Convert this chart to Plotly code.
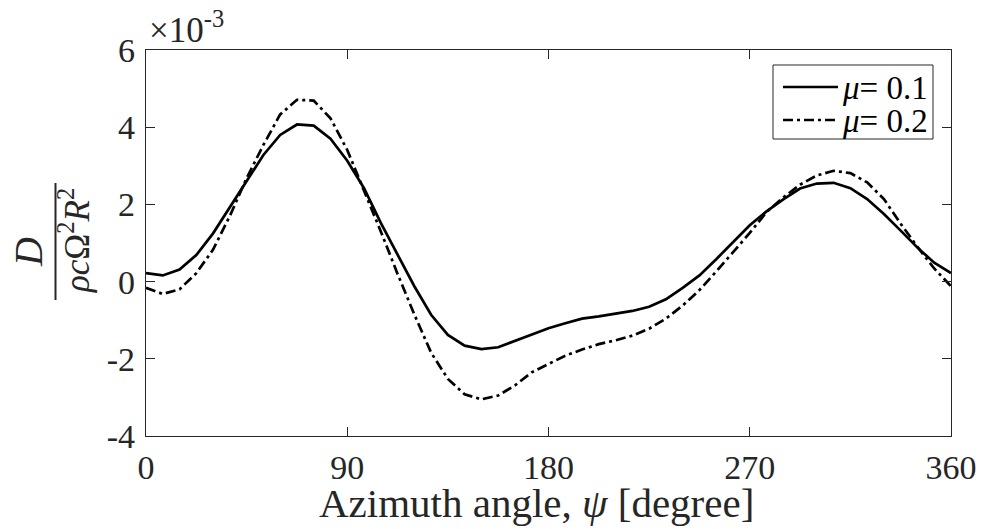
import plotly.graph_objects as go

# Azimuth angle (degrees)
psi = [i * 7.5 for i in range(49)]

# D / (rho c Omega^2 R^2), in units of 1e-3
mu_01 = [0.22, 0.16, 0.31, 0.69, 1.25, 1.93, 2.63, 3.28, 3.80, 4.07, 4.04, 3.70,
         3.13, 2.42, 1.52, 0.70, -0.12, -0.86, -1.38, -1.66, -1.75, -1.70, -1.54, -1.36,
         -1.21, -1.08, -0.96, -0.90, -0.83, -0.76, -0.65, -0.46, -0.16, 0.16, 0.58, 1.02,
         1.46, 1.82, 2.13, 2.41, 2.54, 2.56, 2.42, 2.14, 1.75, 1.32, 0.88, 0.49, 0.22]
mu_02 = [-0.16, -0.32, -0.20, 0.22, 0.83, 1.70, 2.68, 3.54, 4.33, 4.71, 4.69, 4.23,
         3.41, 2.37, 1.30, 0.20, -0.85, -1.84, -2.52, -2.92, -3.05, -2.95, -2.69, -2.35,
         -2.13, -1.92, -1.76, -1.62, -1.52, -1.40, -1.22, -0.96, -0.62, -0.22, 0.26, 0.76,
         1.26, 1.80, 2.18, 2.51, 2.75, 2.87, 2.81, 2.57, 2.14, 1.50, 0.90, 0.34, -0.12]

series_names = ["<i>μ</i>= 0.1", "<i>μ</i>= 0.2"]

x_ticks = [0, 90, 180, 270, 360]
x_tick_labels = ["0", "90", "180", "270", "360"]
y_ticks = [-4, -2, 0, 2, 4, 6]
y_tick_labels = ["-4", "-2", "0", "2", "4", "6"]

FONT = "Liberation Serif"
AX = "#262626"
DASHDOT = "10px,4px,3px,4px"

W, H = 982, 529
L, T = 146, 50
pw, ph = 805, 386
R, B = W - L - pw, H - T - ph


def px(x):  # picture x pixel -> paper
    return (x - L) / pw


def py(y):  # picture y pixel -> paper
    return (T + ph - y) / ph


fig = go.Figure()
fig.add_trace(go.Scatter(x=psi, y=mu_01, mode="lines", name=series_names[0],
                         line=dict(color="black", width=2.7)))
fig.add_trace(go.Scatter(x=psi, y=mu_02, mode="lines", name=series_names[1],
                         line=dict(color="black", width=2.7, dash=DASHDOT)))

axis_common = dict(showline=True, linecolor=AX, linewidth=1.4, mirror="ticks",
                   ticks="inside", ticklen=9, tickwidth=1.3, tickcolor=AX,
                   showgrid=False, zeroline=False, automargin=False,
                   tickfont=dict(family=FONT, size=34, color=AX))

fig.update_layout(
    width=W, height=H,
    margin=dict(l=L, r=R, t=T, b=B),
    paper_bgcolor="white", plot_bgcolor="white",
    font=dict(family=FONT, color=AX),
    xaxis=dict(range=[0, 360], tickvals=x_ticks, ticktext=x_tick_labels,
               ticklabelstandoff=1, **axis_common),
    yaxis=dict(range=[-4, 6], tickvals=y_ticks, ticktext=y_tick_labels,
               ticklabelstandoff=3, **axis_common),
    showlegend=False,
)

# x-axis title
fig.add_annotation(xref="paper", yref="paper", x=px(536), y=py(503),
                   text="Azimuth angle, <i>ψ</i> [degree]", showarrow=False,
                   xanchor="center", yanchor="middle",
                   font=dict(family=FONT, size=41, color=AX))

# y-axis label as a fraction: D / (rho c Omega^2 R^2)
fig.add_annotation(xref="paper", yref="paper", x=px(28), y=py(252),
                   text="<i>D</i>", textangle=-90, showarrow=False,
                   xanchor="center", yanchor="middle",
                   font=dict(family=FONT, size=40, color=AX))
fig.add_annotation(xref="paper", yref="paper", x=px(74), y=py(241),
                   text="<i>ρc</i>Ω<sup>2</sup><i>R</i><sup>2</sup>", textangle=-90,
                   showarrow=False, xanchor="center", yanchor="middle",
                   font=dict(family=FONT, size=35, color=AX))
fig.add_shape(type="line", xref="paper", yref="paper",
              x0=px(55.5), x1=px(55.5), y0=py(183), y1=py(300),
              line=dict(color=AX, width=2))

# exponent multiplier
fig.add_annotation(xref="paper", yref="paper", x=px(147), y=py(52),
                   text="×10<sup>-3</sup>", showarrow=False,
                   xanchor="left", yanchor="bottom",
                   font=dict(family=FONT, size=35, color=AX))

# legend (box, line samples, labels)
fig.add_shape(type="rect", xref="paper", yref="paper",
              x0=px(773), x1=px(933), y0=py(139), y1=py(65),
              line=dict(color=AX, width=1), fillcolor="white", layer="above")
rows = [(87, "solid"), (120, DASHDOT)]
for (yrow, dash), name in zip(rows, series_names):
    fig.add_shape(type="line", xref="paper", yref="paper",
                  x0=px(783), x1=px(838), y0=py(yrow), y1=py(yrow),
                  line=dict(color="black", width=2.7, dash=dash), layer="above")
    fig.add_annotation(xref="paper", yref="paper", x=px(840), y=py(yrow + 1),
                       text=name, showarrow=False, xanchor="left", yanchor="middle",
                       font=dict(family=FONT, size=33, color="black"))

# remove the default page margin so the figure fills the window exactly
fig.write_html("out.html",
               config={"displayModeBar": False},
               post_script="document.body.style.margin='0';"
                           "document.body.style.overflow='hidden';")
